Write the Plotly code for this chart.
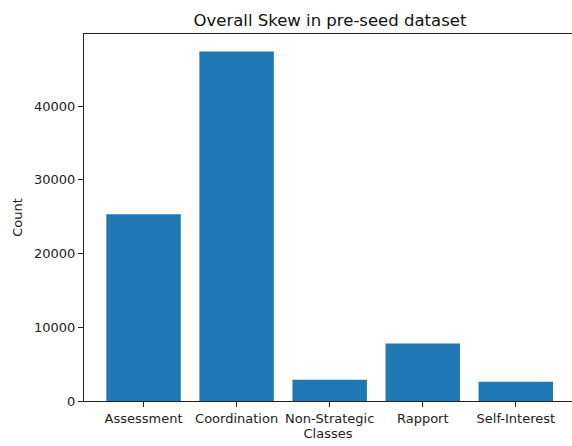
import plotly.graph_objects as go

classes = ["Assessment", "Coordination", "Non-Strategic", "Rapport", "Self-Interest"]
counts = [25350, 47420, 2880, 7810, 2610]
y_ticks = [0, 10000, 20000, 30000, 40000]

FONT = "DejaVu Sans, Liberation Sans, sans-serif"

fig = go.Figure(
    go.Bar(
        x=list(range(len(classes))),
        y=counts,
        width=0.8,
        marker=dict(color="#1f77b4", line=dict(width=0)),
        hoverinfo="skip",
    )
)

fig.update_layout(
    width=572,
    height=446,
    margin=dict(l=84, r=0, t=34, b=45),
    paper_bgcolor="white",
    plot_bgcolor="white",
    showlegend=False,
    font=dict(family=FONT, size=13, color="#222222"),
    title=dict(
        text="Overall Skew in pre-seed dataset",
        x=0.504,
        xref="paper",
        xanchor="center",
        y=1 - 20 / 446,
        yref="container",
        yanchor="middle",
        font=dict(family=FONT, size=16.5, color="#111111"),
    ),
)

fig.update_xaxes(
    range=[-0.64, 4.604],
    tickmode="array",
    tickvals=list(range(len(classes))),
    ticktext=classes,
    showgrid=False,
    zeroline=False,
    showline=True,
    linecolor="#222222",
    linewidth=1,
    mirror=True,
    ticks="outside",
    ticklen=5,
    tickcolor="#222222",
    tickfont=dict(size=13),
    title=dict(text="Classes", standoff=4, font=dict(size=13)),
)

fig.update_yaxes(
    range=[0, 49790],
    tickmode="array",
    tickvals=y_ticks,
    ticktext=[str(v) for v in y_ticks],
    showgrid=False,
    zeroline=False,
    showline=True,
    linecolor="#222222",
    linewidth=1,
    ticks="outside",
    ticklen=5,
    tickcolor="#222222",
    tickfont=dict(size=13),
    title=dict(text="Count", standoff=8, font=dict(size=13)),
)

fig.write_html(
    "out.html",
    config={"displayModeBar": False, "staticPlot": True},
    post_script="document.body.style.margin='0';",
)
